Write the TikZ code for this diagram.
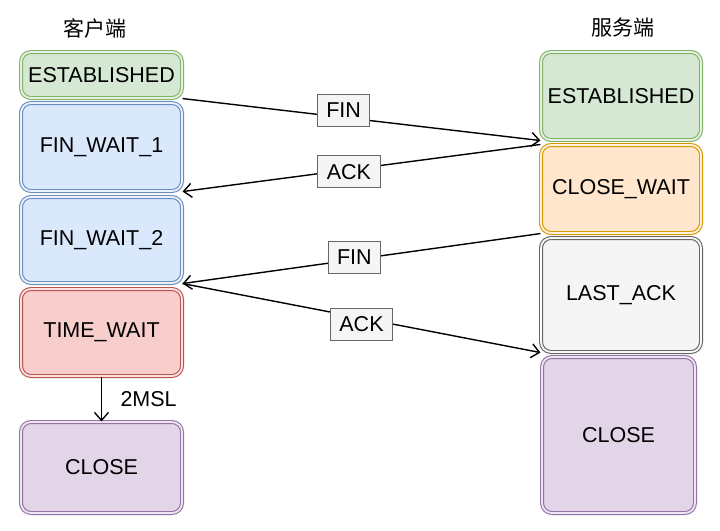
\documentclass[tikz,border=0pt]{standalone}
\usepackage{fontspec}
\setmainfont{Liberation Sans}
\newfontfamily\cjk{Noto Sans CJK SC}
\usetikzlibrary{arrows.meta}

\definecolor{greenfill}{HTML}{D5E8D4}
\definecolor{greenline}{HTML}{82B366}
\definecolor{bluefill}{HTML}{DAE8FC}
\definecolor{blueline}{HTML}{6C8EBF}
\definecolor{redfill}{HTML}{F8CECC}
\definecolor{redline}{HTML}{B85450}
\definecolor{orangefill}{HTML}{FFE6CC}
\definecolor{orangeline}{HTML}{D79B00}
\definecolor{grayfill}{HTML}{F5F5F5}
\definecolor{grayline}{HTML}{666666}
\definecolor{purplefill}{HTML}{E1D5E7}
\definecolor{purpleline}{HTML}{9673A6}

\begin{document}
\begin{tikzpicture}[x=1pt, y=-1pt,
		state/.style 2 args={rectangle, rounded corners=10pt, draw=#1, fill=#2, double=#2!60!white,
			line width=1.1pt, double distance=1.8pt, inner sep=0pt,
			font=\fontsize{21.5}{25}\selectfont},
		msg/.style={line width=1.4pt, -{Straight Barb[length=8pt, width=14pt]}},
		msglabel/.style={draw=grayline, fill=grayfill, line width=1pt, inner xsep=9pt,
			inner ysep=0pt, minimum height=32pt, font=\fontsize{21.5}{25}\selectfont}]
		\useasboundingbox (0, 0) rectangle (720, 530);

		% 客户端
		\node (ctitle) at (95, 28) {\cjk\fontsize{21}{25}\selectfont 客户端};
		\node (cest) at (101.5, 75) [state={greenline}{greenfill}, minimum width=161pt, minimum height=46pt] {ESTABLISHED};
		\node (cfw1) at (101.5, 147) [state={blueline}{bluefill}, minimum width=161pt, minimum height=88pt] {FIN\_WAIT\_1};
		\node (cfw2) at (101.5, 240) [state={blueline}{bluefill}, minimum width=161pt, minimum height=86pt] {FIN\_WAIT\_2};
		\node (ctw) at (101.5, 332.5) [state={redline}{redfill}, minimum width=161pt, minimum height=87pt] {TIME\_WAIT};
		\node (cclose) at (101.5, 467.5) [state={purpleline}{purplefill}, minimum width=161pt, minimum height=91pt] {CLOSE};

		% 服务端
		\node (stitle) at (623, 28) {\cjk\fontsize{21}{25}\selectfont 服务端};
		\node (sest) at (621, 96) [state={greenline}{greenfill}, minimum width=160pt, minimum height=88pt] {ESTABLISHED};
		\node (scw) at (621, 189) [state={orangeline}{orangefill}, minimum width=160pt, minimum height=88pt] {CLOSE\_WAIT};
		\node (sla) at (621, 295) [state={grayline}{grayfill}, minimum width=160pt, minimum height=114pt] {LAST\_ACK};
		\node (sclose) at (618.5, 435) [state={purpleline}{purplefill}, minimum width=153pt, minimum height=156pt] {CLOSE};

		% 四次挥手
		\draw[msg] (cest.south east) -- (sest.south west) node[msglabel, pos=0.45, yshift=7pt] {FIN};
		\draw[msg] (scw.north west) -- (cfw1.south east) node[msglabel, pos=0.535, yshift=-2pt] {ACK};
		\draw[msg] (scw.south west) -- (cfw2.south east) node[msglabel, pos=0.52, yshift=2pt] {FIN};
		\draw[msg] (cfw2.south east) -- (sla.south west) node[msglabel, pos=0.5, yshift=-6pt] {ACK};

		\draw[msg] (ctw.south) -- (cclose.north) node[midway, right=15pt, font=\fontsize{21.5}{25}\selectfont] {2MSL};
	\end{tikzpicture}
\end{document}
